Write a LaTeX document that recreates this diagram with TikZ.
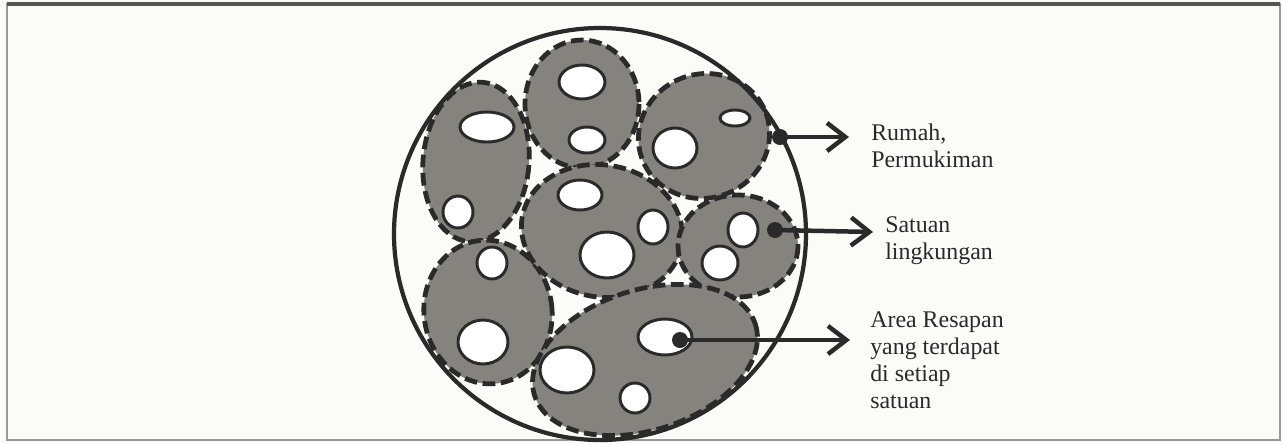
\documentclass[tikz,border=0pt]{standalone}
\usepackage{fontspec}
\setmainfont{Liberation Serif}
\usetikzlibrary{arrows.meta}

\definecolor{unitgray}{HTML}{84837D}
\definecolor{inkdark}{HTML}{2A2A2A}
\definecolor{paper}{HTML}{FBFBF8}

\tikzset{
  unit/.style={fill=unitgray, draw=inkdark, line width=3.4pt, dash pattern=on 9pt off 4pt},
  hole/.style={fill=white, draw=inkdark, line width=2.1pt},
  pointer/.style={draw=inkdark, line width=3.2pt,
    -{Straight Barb[length=13pt,width=20pt,line width=3.2pt]}},
  lbl/.style={anchor=west, align=left, inner sep=0pt,
    font=\fontsize{17}{19.2}\selectfont, text=inkdark}
}

\begin{document}
\begin{tikzpicture}[x=0.025cm,y=-0.025cm]
            \fill[paper] (0,0) rectangle (1283,443);
            \useasboundingbox (0,0) rectangle (1283,443);
            \draw[gray!80, line width=1.5pt] (7,4) rectangle (1280,440);
            \draw[inkdark!80, line width=2.2pt] (7,4) -- (1280,4);

            % satuan lingkungan
            \path[unit, shift={(476,162)}, rotate=-5] (0,0) ellipse [x radius=53, y radius=80];
            \path[unit, shift={(488,312)}, rotate=8] (0,0) ellipse [x radius=64, y radius=72];
            \path[unit, shift={(582,104)}] (0,0) ellipse [x radius=57, y radius=64];
            \path[unit, shift={(704,136)}, rotate=20] (0,0) ellipse [x radius=66, y radius=62];
            \path[unit, shift={(602,231)}, rotate=-10] (0,0) ellipse [x radius=81, y radius=66];
            \path[unit, shift={(738,246)}] (0,0) ellipse [x radius=60, y radius=51];
            \path[unit, shift={(645,360)}, rotate=18] (0,0) ellipse [x radius=116, y radius=70];

            % area resapan
            \foreach \x/\y/\a/\b in {487/127/27/15, 458/212/15/16, 582/82/23/17, 587/140/18/13,
                735/118/15/8, 675/148/22/20, 580/195/22/15, 653/227/15/17, 607/255/27/23,
                743/230/15/17, 720/263/18/17, 492/263/15/16, 483/342/25/22,
                665/337/27/18, 567/370/27/23, 635/398/15/15}{
                \draw[hole] (\x,\y) ellipse [x radius=\a, y radius=\b];
            }

            \draw[inkdark, line width=3pt] (600,234) circle [radius=206];

            \coordinate (d1) at (780,137);
            \coordinate (d2) at (775,230);
            \coordinate (d3) at (680,340);
            \coordinate (tip1) at (849,137);
            \coordinate (tip2) at (873,232);
            \coordinate (tip3) at (850,340);

            \node[lbl] (rumah) at (871,146) {Rumah,\\Permukiman};
            \node[lbl] (satuan) at (885,241) {Satuan\\lingkungan};
            \node[lbl] (area) at (870,360) {Area Resapan\\yang terdapat\\di setiap\\satuan};

            \draw[pointer] (d1) -- (tip1);
            \draw[pointer] (d2) -- (tip2);
            \draw[pointer] (d3) -- (tip3);

            \foreach \p in {d1,d2,d3}{
                \fill[inkdark] (\p) circle (8);
            }
        \end{tikzpicture}
\end{document}
